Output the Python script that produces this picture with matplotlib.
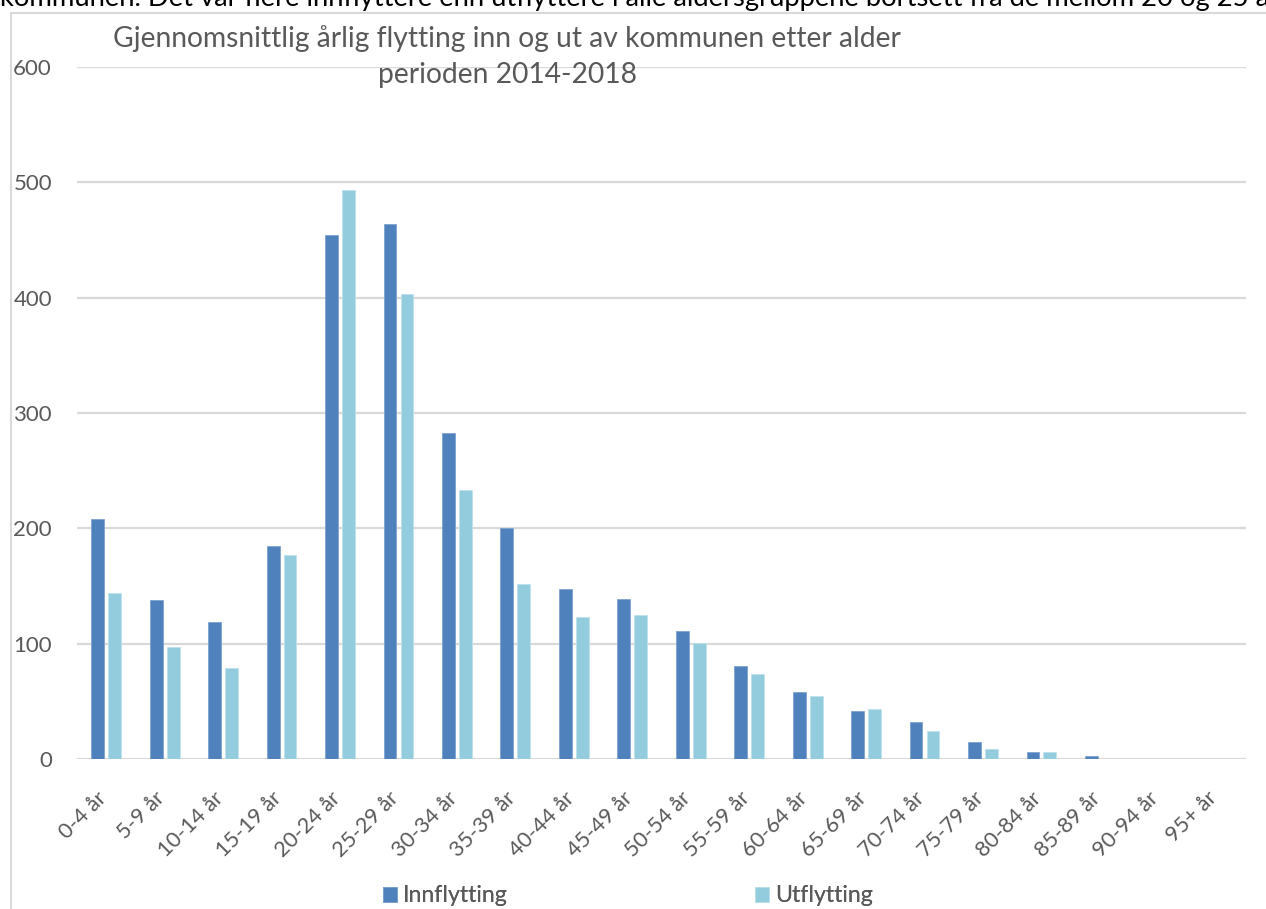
import numpy as np
import matplotlib.pyplot as plt
import matplotlib.transforms as mtransforms
from matplotlib.patches import Rectangle

# age groups and average yearly moves
age_groups = ['0-4 år', '5-9 år', '10-14 år', '15-19 år', '20-24 år', '25-29 år',
              '30-34 år', '35-39 år', '40-44 år', '45-49 år', '50-54 år', '55-59 år',
              '60-64 år', '65-69 år', '70-74 år', '75-79 år', '80-84 år', '85-89 år',
              '90-94 år', '95+ år']
innflytting = [208, 138, 119, 185, 454, 464, 283, 200, 147, 139, 111, 81,
               58, 42, 32, 15, 6, 3, 0, 0]
utflytting = [144, 97, 79, 177, 493, 403, 233, 152, 123, 125, 101, 74,
              55, 43, 24, 9, 6, 0, 0, 0]
series_names = ['Innflytting', 'Utflytting']
yticks = [0, 100, 200, 300, 400, 500, 600]

title_lines = ['Gjennomsnittlig årlig flytting inn og ut av kommunen etter alder',
               'perioden 2014-2018']
top_text = ('kommunen. Det var flere innflyttere enn utflyttere i alle aldersgruppene '
            'bortsett fra de mellom 20 og 25 år')

plt.rcParams['font.family'] = ['Lato', 'DejaVu Sans']

W, H = 1266, 909
fig = plt.figure(figsize=(W / 100, H / 100), dpi=100)
renderer = fig.canvas.get_renderer()


def fit_size(s, target_px, size0=17, rotation=0):
    # font size that makes the (rotated) string about target_px wide
    t = fig.text(0, 0, s, fontsize=size0, rotation=rotation)
    wpx = t.get_window_extent(renderer).width
    t.remove()
    return size0 * target_px / wpx


# chart frame (gray border of the embedded chart)
fig.patches.append(Rectangle((11 / W, -0.1), 1.2, 1 - 13 / H + 0.1, transform=fig.transFigure,
                             fill=False, edgecolor='#D9D9D9', linewidth=1.5, zorder=0))

# text of the surrounding document, cut at the top
top_size = fit_size(top_text[:top_text.rfind('25 ') + 3], 1256)
fig.text(0, 1 - 6 / H, top_text, fontsize=top_size, color='black', va='baseline', ha='left')

ax = fig.add_axes([77 / W, 1 - 759 / H, (1246 - 77) / W, (759 - 67) / H])

x = np.arange(len(age_groups))
w = 0.22
ax.bar(x - 0.145, innflytting, width=w, color='#4F81BD', edgecolor='#7EA3D0',
       linewidth=0.6, label=series_names[0], zorder=3)
ax.bar(x + 0.145, utflytting, width=w, color='#93CDDD', edgecolor='#BDE2EB',
       linewidth=0.6, label=series_names[1], zorder=3)

ax.set_xlim(-0.5, len(age_groups) - 0.5)
ax.set_ylim(0, 600)
ax.set_yticks(yticks)
ax.set_yticklabels([str(v) for v in yticks], fontsize=16, color='#595959')
ax.yaxis.grid(True, color='#D9D9D9', linewidth=1.6, zorder=0)
ax.set_axisbelow(True)
ax.tick_params(axis='y', length=0, pad=18)

tick_size = fit_size('20-24 år', 72, rotation=45)
ax.tick_params(axis='x', length=0, pad=26 + (tick_size - 15.5) * 0.5)
ax.set_xticks(x)
ax.set_xticklabels(age_groups, rotation=45, ha='right', va='center', rotation_mode='anchor',
                   fontsize=tick_size, color='#595959')
shift = mtransforms.ScaledTranslation(-3 / 100, 0, fig.dpi_scale_trans)
for lab in ax.get_xticklabels():
    lab.set_transform(lab.get_transform() + shift)
for s in ax.spines.values():
    s.set_visible(False)

title_size = fit_size(title_lines[0], 787)
fig.text(507 / W, 1 - 39 / H, title_lines[0], ha='center', va='center',
         fontsize=title_size, color='#595959')
fig.text(507 / W, 1 - 75 / H, title_lines[1], ha='center', va='center',
         fontsize=title_size, color='#595959')

# legend: one entry at a time so each square sits where it is in the picture
leg_size = fit_size(series_names[0], 105)
em = leg_size * 100 / 72
handles, labels = ax.get_legend_handles_labels()
for h, lab, x0 in zip(handles, labels, [383, 755]):
    lg = fig.legend([h], [lab], loc='center left', bbox_to_anchor=(x0 / W, 1 - 896 / H),
                    frameon=False, fontsize=leg_size, borderpad=0, borderaxespad=0,
                    handlelength=14 / em, handleheight=14 / em, handletextpad=6 / em,
                    labelcolor='#595959')
    fig.add_artist(lg)

fig.savefig('out.png', dpi=100)
